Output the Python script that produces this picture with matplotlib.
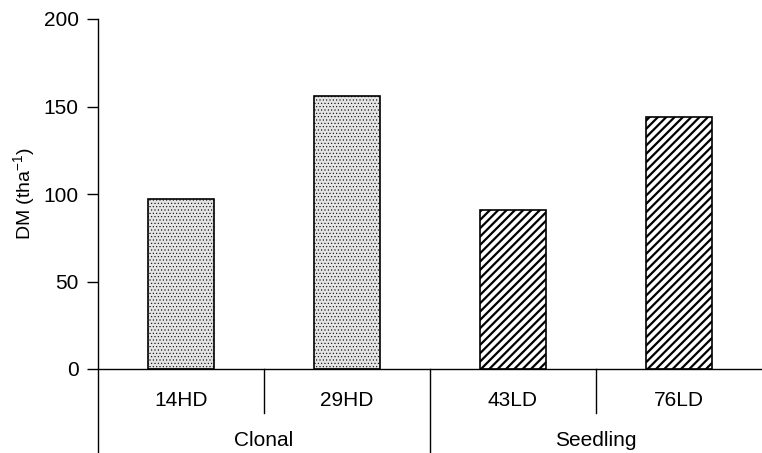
import matplotlib.pyplot as plt
import numpy as np

# values
varieties = ['14HD', '29HD', '43LD', '76LD']
groups = ['Clonal', 'Seedling']
dm = [97, 156, 91, 144]
hatches = ['.....', '.....', '////', '////']
yticks = [0, 50, 100, 150, 200]

plt.rcParams['font.family'] = ['Liberation Sans', 'DejaVu Sans']

fig = plt.figure(figsize=(7.62, 4.53), dpi=100)
ax = fig.add_axes([98 / 762, 84 / 453, 664 / 762, 350 / 453])

x = np.arange(len(varieties)) + 0.5
for xi, v, h in zip(x, dm, hatches):
    dotted = h.startswith('.')
    with plt.rc_context({'hatch.linewidth': 0.4 if dotted else 1.6}):
        ax.bar(xi, v, width=0.4, color='#e4e4e4' if dotted else 'white',
               edgecolor='black', hatch=h, linewidth=1.2)

ax.set_xlim(0, len(varieties))
ax.set_ylim(0, 200)
ax.set_yticks(yticks)
ax.tick_params(axis='y', direction='out', length=8, width=1, labelsize=15, pad=6)
ax.set_xticks([])
ax.spines['top'].set_visible(False)
ax.spines['right'].set_visible(False)
ax.spines['left'].set_bounds(-48, 200)
ax.spines['left'].set_linewidth(1)
ax.spines['bottom'].set_linewidth(1)
ax.set_ylabel('DM (tha$^{\\mathregular{-1}}$)', fontsize=14, labelpad=4)

# category labels below axis
for xi, lab in zip(x, varieties):
    ax.text(xi, -18, lab, ha='center', va='center', fontsize=15, clip_on=False)
for gi, g in enumerate(groups):
    ax.text(2 * gi + 1, -41, g, ha='center', va='center', fontsize=15, clip_on=False)

# separators
ax.plot([1, 1], [0, -25], color='black', lw=1, clip_on=False)
ax.plot([3, 3], [0, -25], color='black', lw=1, clip_on=False)
ax.plot([2, 2], [0, -48], color='black', lw=1, clip_on=False)

fig.savefig('out.png', dpi=100)
